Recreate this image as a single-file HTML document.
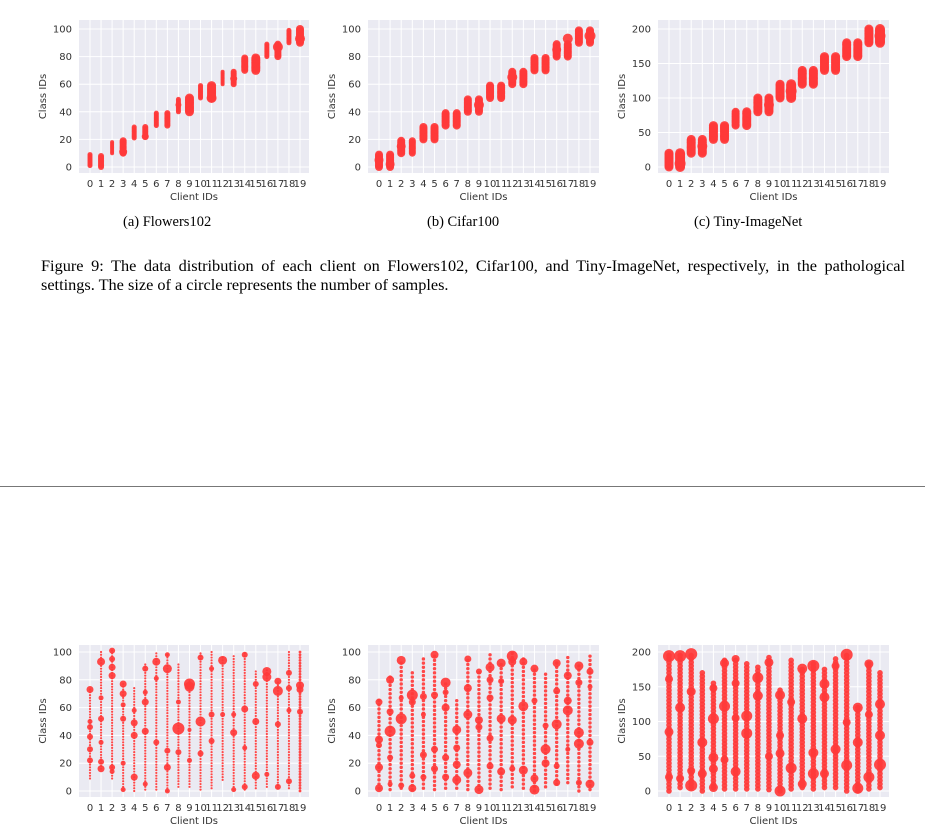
<!DOCTYPE html>
<html><head><meta charset="utf-8">
<style>
body{margin:0;width:925px;height:828px;background:#fff;position:relative;overflow:hidden;font-family:"Liberation Serif",serif;}
.cap{position:absolute;font-size:14.5px;color:#000;}
#fig{position:absolute;left:41px;top:256px;width:864px;font-size:16.3px;line-height:19px;color:#000;}
#fig .l1{display:block;text-align:justify;text-align-last:justify;white-space:nowrap;}
#rule{position:absolute;left:0;top:486px;width:925px;height:1px;background:#777;}
svg{position:absolute;left:0;top:0;}
svg text{font-family:"DejaVu Sans","Liberation Sans",sans-serif;font-size:10px;fill:#333;}
</style></head><body>
<svg id="chart" width="925" height="828"></svg>
<div class="cap" style="left:123px;top:214px">(a) Flowers102</div>
<div class="cap" style="left:427px;top:214px">(b) Cifar100</div>
<div class="cap" style="left:694px;top:214px">(c) Tiny-ImageNet</div>
<div id="fig"><span class="l1">Figure 9: The data distribution of each client on Flowers102, Cifar100, and Tiny-ImageNet, respectively, in the pathological</span>settings. The size of a circle represents the number of samples.</div>
<div id="rule"></div>
<script>
const clientLabels=["0","1","2","3","4","5","6","7","8","9","10","11","12","13","14","15","16","17","18","19"];
const ticks100=[0,20,40,60,80,100];
const ticks200=[0,50,100,150,200];
// top-left: Flowers102 pathological
const flLo=[1,0,10,10,21,22,30,30,40,40,50,50,60,60,70,70,80,80,90,90];
const flHi=[9,8,18,19,29,29,39,39,49,50,59,59,69,69,79,79,89,89,99,100];
const flR=[2.5,3,2,3.5,2.5,3,2.5,3,2.5,4.5,2.5,4.5,2,3,3.5,4.5,2.5,3.5,2.5,4];
const flBigC=[3,5,8,11,13,17,19];
const flBigY=[11,22,45,50,64,87,93];
const flBigR=[4,3.5,3,5,3.5,5,5];
// top-middle: Cifar100 pathological
const cfLo=[0,0,10,10,20,20,30,30,40,40,50,50,60,60,70,70,80,80,90,90];
const cfHi=[9,9,19,19,29,29,39,39,49,49,59,59,69,69,79,79,89,89,99,99];
const cfR=[4,4,4,3.5,4,4,4,4,4,4,4,4,4,4,4,4,4,4,4,4];
const cfBigC=[0,1,2,9,12,16,17,19];
const cfBigY=[5,2,15,45,65,85,93,95];
const cfBigR=[4.5,4.5,4.5,5,5,4.5,5,5.5];
// top-right: Tiny-ImageNet pathological
const tnLo=[0,0,20,20,40,40,60,60,80,80,100,100,120,120,140,140,160,160,180,180];
const tnHi=[20,20,40,40,60,60,80,80,100,100,120,120,140,140,160,160,180,180,200,200];
const tnR=[4.5,5,4.5,4.5,4.5,4.5,4,4.5,4.5,4.5,4.5,5,4.5,4.5,4.5,4.5,4.5,4.5,4.5,5];
const tnBigC=[1,3,9,11,19];
const tnBigY=[5,30,90,110,190];
const tnBigR=[5.5,5,5,5.5,5.5];
// bottom-left: Flowers102 Dirichlet
const dfLo=[9,16,9,1,0,1,1,0,3,3,1,2,8,1,1,2,3,2,2,0];
const dfHi=[73,100,101,77,75,91,99,98,92,80,99,101,96,98,99,86,87,79,101,100];
const dfR=[1.1,1.1,1.1,1.1,1.1,1.1,1.1,1.1,1.1,1.1,1.1,1.1,1.1,1.1,1.1,1.1,1.1,1.1,1.1,1.4];
const dfBigC=[0,0,0,0,0,0,1,1,1,1,1,1,2,2,2,2,2,2,3,3,3,3,3,3,4,4,4,4,5,5,5,5,5,6,6,6,7,7,7,7,7,8,8,8,9,9,9,9,10,10,10,11,11,11,12,12,13,13,13,14,14,14,14,15,15,15,16,16,16,17,17,17,17,18,18,18,18,19,19,19];
const dfBigY=[73,46,39,30,22,50,93,67,52,35,21,16,101,95,89,83,17,14,77,70,62,52,20,1,49,40,10,58,88,71,64,43,5,93,81,35,98,88,29,17,0,45,28,64,77,75,22,44,96,50,27,55,36,88,94,55,42,55,1,98,59,31,3,77,50,11,86,82,12,79,72,48,3,85,74,58,7,76,73,57];
const dfBigR=[3.5,3,3,3,3,2.5,4,2.5,3,2.5,3,3.5,3,3,3.5,3.5,3,2.5,3.5,3.5,2.5,3,2.5,2.5,3.5,3.5,3.5,2.5,3,2.5,3.5,3.5,2.5,4,2.5,3,2.5,4.5,3,3.5,2.5,6,3,2.5,5.5,5,2.5,2,3,5,3,3,3,2.5,4.5,2.5,3.5,2.5,2.5,3,3.5,2.5,3,3,3.5,4,4.5,4.5,2.5,3.5,5,3,3,3,3,2.5,3,4,3.5,3];
// bottom-middle: Cifar100 Dirichlet
const dcLo=[2,1,2,1,2,1,2,2,1,1,2,1,3,2,0,3,5,6,0,1];
const dcHi=[65,82,94,85,95,99,78,66,95,87,99,93,99,97,88,85,92,97,90,98];
const dcR=[1.7,1.7,1.7,1.7,1.7,1.7,1.7,1.7,1.7,1.7,1.7,1.7,1.7,1.7,1.7,1.7,1.7,1.7,1.7,1.7];
const dcBigC=[0,0,0,0,0,1,1,1,1,1,2,2,2,2,3,3,3,3,4,4,4,4,5,5,5,5,6,6,6,6,6,7,7,7,7,8,8,8,8,9,9,9,9,10,10,10,10,10,11,11,11,11,12,12,12,12,13,13,13,14,14,14,14,15,15,15,16,16,16,16,16,17,17,17,17,18,18,18,18,18,19,19,19,19];
const dcBigY=[64,37,33,17,2,80,57,43,24,5,94,52,4,67,69,64,11,2,68,26,10,55,98,69,30,16,78,60,71,24,10,44,31,19,8,95,74,55,13,86,51,46,1,89,80,67,38,18,92,79,52,14,97,93,51,16,93,61,15,88,65,9,1,47,30,20,92,72,48,18,6,83,65,58,30,90,78,42,34,6,86,75,35,5];
const dcBigR=[3.5,4,3,4,4,4,3.5,5.5,3,2.5,4.5,5.5,3,2.5,5.5,3.5,3,4,3.5,3.5,3,2.5,4,3.5,3.5,3.5,5,4,3,3.5,3.5,4.5,3.5,4,4.5,3.5,4,4.5,4.5,3,4,3.5,4.5,4.5,3.5,3.5,3.5,3.5,4.5,3,4.5,4,5.5,4,4.5,3,4,5,4.5,4,3,4,5,3,5,4,4,3.5,5,3,3.5,4,4,5,2.5,4.5,3.5,5,5,3,3.5,2.5,3.5,4.5];
// bottom-right: Tiny-ImageNet Dirichlet
const dtLo=[0,5,5,0,5,3,3,3,3,2,0,3,5,3,5,5,0,0,3,5];
const dtHi=[196,198,198,172,156,190,191,186,182,195,146,188,178,187,178,193,197,123,183,170];
const dtR=[2.8,2.8,2.8,2.8,2.8,2.8,2.8,2.8,2.8,2.8,2.8,2.8,2.8,2.8,2.8,2.8,2.8,2.8,2.8,2.8];
const dtBigC=[0,0,0,0,1,1,1,2,2,2,2,3,3,4,4,4,4,4,5,5,5,6,6,6,6,7,7,8,8,9,9,10,10,10,10,11,11,12,12,12,13,13,13,14,14,14,15,15,16,16,16,17,17,17,18,18,18,19,19,19];
const dtBigY=[194,161,85,20,194,120,18,197,143,8,29,70,25,148,104,48,32,5,184,122,45,190,155,105,28,108,83,163,137,185,50,138,80,0,54,33,128,176,104,10,180,55,25,154,135,25,180,60,196,99,37,120,70,4,183,110,20,125,80,38];
const dtBigR=[6,4,4.5,4,6,5,4,6,4.5,6,4,5,4.5,4,5.5,5,4.5,4.5,4.5,5.5,4,4,4,4,5,5.5,5.5,5.5,5,4.5,4,5,4,5.5,4.5,5.5,4,5,5,4.5,6,5,5.5,5,5,4.5,4,5,6,4,5.5,5,5,5.5,4.5,4,5.5,5,5,6];

const NS="http://www.w3.org/2000/svg";
const svg=document.getElementById('chart');
function mk(tag,attrs,parent){const e=document.createElementNS(NS,tag);for(const k in attrs)e.setAttribute(k,attrs[k]);(parent||svg).appendChild(e);return e;}

function drawChart(name,g,lo,hi,rr,bc,by,br,ymax,ticks,step){
  const grp=mk('g',{});
  
  
  const bg=mk('rect',{x:g.px0,y:g.py0,width:g.px1-g.px0,height:g.py1-g.py0,fill:'#eaeaf2'},grp);
  
  
  const xs=i=>g.cx0+i*(g.cx19-g.cx0)/19;
  const ys=v=>g.y0-v*(g.y0-g.yTop)/ymax;
  ticks.forEach(t=>{
    const l=mk('line',{x1:g.px0,x2:g.px1,y1:ys(t),y2:ys(t),stroke:'#fff','stroke-width':1},grp);
    
    
    const tx=mk('text',{x:g.px0-7,y:ys(t)+3.5,'text-anchor':'end'},grp);
    tx.textContent=t;
    
    
  });
  clientLabels.forEach((c,i)=>{
    const l=mk('line',{x1:xs(i),x2:xs(i),y1:g.py0,y2:g.py1,stroke:'#fff','stroke-width':1},grp);
    
    
    const tx=mk('text',{x:xs(i),y:g.py1+14,'text-anchor':'middle'},grp);
    tx.textContent=c;
    
    
  });
  const dots=mk('g',{fill:'#ff3a3a','fill-opacity':0.92},grp);
  lo.forEach((l,i)=>{
    for(let v=l;v<=hi[i];v+=step){
      const c=mk('circle',{cx:xs(i),cy:ys(v),r:rr[i]},dots);
      
      
    }
  });
  bc.forEach((c,k)=>{
    const e=mk('circle',{cx:xs(c),cy:ys(by[k]),r:br[k]},dots);
    
    
  });
  const xl=mk('text',{x:(g.px0+g.px1)/2,y:g.py1+27,'text-anchor':'middle'},grp);
  xl.textContent='Client IDs';
  
  
  const yl=mk('text',{x:0,y:0,'text-anchor':'middle',transform:`translate(${g.px0-33},${(g.py0+g.py1)/2}) rotate(-90)`},grp);
  yl.textContent='Class IDs';
  
  
}
const colsX=[[79,309,90,300],[368,599,379,590],[658,889,669,880]];
function geo(c,top){const[a,b,c0,c19]=colsX[c];return top?{px0:a,px1:b,cx0:c0,cx19:c19,py0:20,py1:173,y0:167,yTop:29}:{px0:a,px1:b,cx0:c0,cx19:c19,py0:645,py1:797,y0:791,yTop:652};}
drawChart('flowers102-pathological-chart',geo(0,true),flLo,flHi,flR,flBigC,flBigY,flBigR,100,ticks100,1);
drawChart('cifar100-pathological-chart',geo(1,true),cfLo,cfHi,cfR,cfBigC,cfBigY,cfBigR,100,ticks100,1);
drawChart('tiny-imagenet-pathological-chart',geo(2,true),tnLo,tnHi,tnR,tnBigC,tnBigY,tnBigR,200,ticks200,2);
drawChart('flowers102-dirichlet-chart',geo(0,false),dfLo,dfHi,dfR,dfBigC,dfBigY,dfBigR,100,ticks100,2);
drawChart('cifar100-dirichlet-chart',geo(1,false),dcLo,dcHi,dcR,dcBigC,dcBigY,dcBigR,100,ticks100,3);
drawChart('tiny-imagenet-dirichlet-chart',geo(2,false),dtLo,dtHi,dtR,dtBigC,dtBigY,dtBigR,200,ticks200,5);
</script>
</body></html>
